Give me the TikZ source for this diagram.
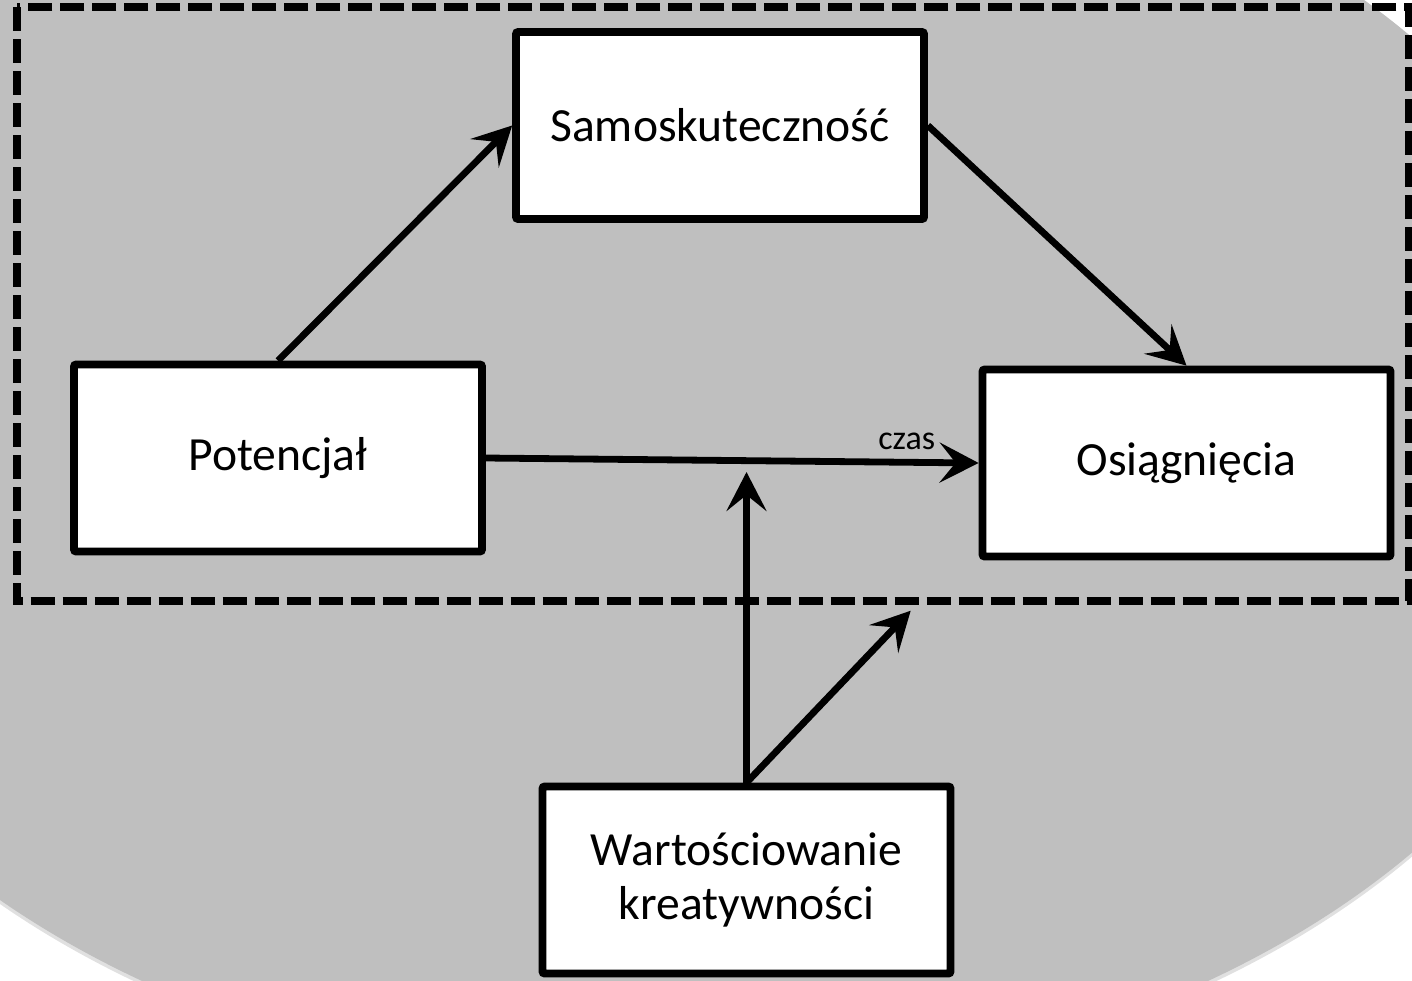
\documentclass[tikz,border=0pt]{standalone}
\usepackage{fontspec}
\setmainfont{Carlito}
\usetikzlibrary{arrows.meta,shadows}
\definecolor{bggray}{RGB}{191,191,191}
\begin{document}
\begin{tikzpicture}[x=0.5pt,y=-0.5pt,
    box/.style={draw,fill=white,line width=3.85pt,rounded corners=1pt,
      minimum width=204pt,minimum height=93.5pt,align=center,
      font=\fontsize{23.8}{26.6}\selectfont,
      drop shadow={shadow xshift=1.2pt,shadow yshift=-1.2pt,opacity=0.3}},
    link/.style={line width=3.4pt,-{Stealth[length=19.5pt,width=20pt,inset=8pt]}}]
  \useasboundingbox (0,0) rectangle (1412,980);
  \clip (0,0) rectangle (1412,980);
  % tlo
  \fill[black,opacity=0.12] (675,449) ellipse [x radius=474pt,y radius=324pt];
  \fill[bggray] (675,445) ellipse [x radius=474pt,y radius=324pt];
  \draw[line width=3.85pt,dash pattern=on 12pt off 4pt] (16.7,7) rectangle (1408.5,601);
  % bloki
  \node[box] (samo) at (720,125.5) {Samoskuteczność};
  \node[box] (pot) at (278,458) {Potencjał};
  \node[box] (osi) at (1186.5,463) {Osiągnięcia};
  \node[box] (wart) at (746.5,880) {Wartościowanie\\kreatywności};
  \coordinate (mod) at (746.5,472);
  \coordinate (ramka) at (910.7,610.7);
  % strzalki
  \draw[link] (pot.north) -- (samo.west);
  \draw[link] (samo.east) -- (osi.north);
  \draw[link] (pot.east) -- node[pos=0.854,above=4.5pt,inner sep=0pt,
    font=\fontsize{17}{20}\selectfont] (czas) {czas} (osi.west);
  \draw[link] (wart.north) -- (mod);
  \draw[link] (wart.north) -- (ramka);
\end{tikzpicture}
\end{document}
